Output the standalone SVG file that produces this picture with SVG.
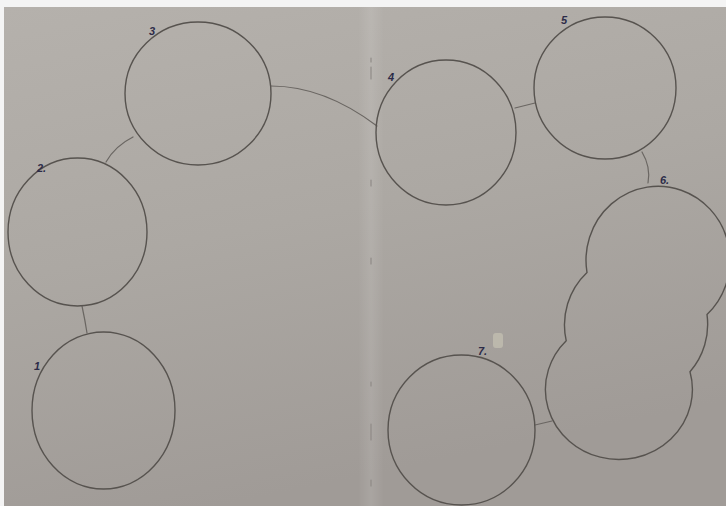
<svg xmlns="http://www.w3.org/2000/svg" width="726" height="506" viewBox="0 0 726 506">
  <defs>
    <linearGradient id="paper" x1="0" y1="0" x2="0.3" y2="1">
      <stop offset="0" stop-color="#b5b1ac"/>
      <stop offset="0.5" stop-color="#aca8a3"/>
      <stop offset="1" stop-color="#a09b97"/>
    </linearGradient>
    <linearGradient id="fold" x1="0" y1="0" x2="1" y2="0">
      <stop offset="0" stop-color="#ffffff" stop-opacity="0"/>
      <stop offset="0.5" stop-color="#ffffff" stop-opacity="0.10"/>
      <stop offset="1" stop-color="#ffffff" stop-opacity="0"/>
    </linearGradient>
    <style>
      .node { fill: none; stroke: #57534f; stroke-width: 1.4; }
      .edge { fill: none; stroke: #6a6662; stroke-width: 1.2; stroke-linecap: round; }
      .lbl { font-family: "Liberation Sans", Arial, sans-serif; font-size: 11px; font-weight: bold; fill: #2c2b48; font-style: italic; }
      .mark { stroke: #8c8884; stroke-width: 1.1; stroke-linecap: round; }
    </style>
  </defs>

  <!-- paper -->
  <rect x="0" y="0" width="726" height="506" fill="#f4f4f4"/>
  <rect x="4" y="7" width="722" height="499" fill="url(#paper)"/>
  <rect x="358" y="7" width="26" height="499" fill="url(#fold)"/>
  <g id="fold-marks">
    <line class="mark" x1="371" y1="58" x2="371" y2="62"/>
    <line class="mark" x1="371" y1="67" x2="371" y2="79"/>
    <line class="mark" x1="371" y1="180" x2="371" y2="186"/>
    <line class="mark" x1="371" y1="258" x2="371" y2="264"/>
    <line class="mark" x1="371" y1="382" x2="371" y2="386"/>
    <line class="mark" x1="371" y1="424" x2="371" y2="440"/>
    <line class="mark" x1="371" y1="480" x2="371" y2="486"/>
  </g>
  <rect x="493" y="333" width="10" height="15" rx="3" fill="#dedbc6" opacity="0.4"/>

  <!-- connectors -->
  <g id="connectors">
    <path class="edge" d="M271,86 Q324,86 377,126"/>
    <path class="edge" d="M106,162 Q115,146 133,137"/>
    <path class="edge" d="M82,306 Q85,320 87,333"/>
    <path class="edge" d="M515,108 L535,103"/>
    <path class="edge" d="M642,152 Q651,167 648,183"/>
    <path class="edge" d="M535,425 L552,421"/>
  </g>

  <!-- nodes -->
  <g id="node-1">
    <ellipse class="node" cx="103.5" cy="410.5" rx="71.5" ry="78.5"/>
    <text class="lbl" x="34" y="370">1</text>
  </g>
  <g id="node-2">
    <ellipse class="node" cx="77.5" cy="232" rx="69.5" ry="74"/>
    <text class="lbl" x="37" y="172">2.</text>
  </g>
  <g id="node-3">
    <ellipse class="node" cx="198" cy="93.5" rx="73" ry="71.5"/>
    <text class="lbl" x="149" y="35">3</text>
  </g>
  <g id="node-4">
    <ellipse class="node" cx="446" cy="132.5" rx="70" ry="72.5"/>
    <text class="lbl" x="388" y="81">4</text>
  </g>
  <g id="node-5">
    <ellipse class="node" cx="605" cy="88" rx="71" ry="71"/>
    <text class="lbl" x="561" y="24">5</text>
  </g>
  <g id="node-6">
    <path class="node" d="M587,272.5 A72,74 0 1 1 707,314.5 A71.5,72 0 0 1 690,371.7 A73.5,70 0 1 1 566.2,340.7 A71.5,72 0 0 1 587,272.5 Z"/>
    <text class="lbl" x="660" y="184">6.</text>
  </g>
  <g id="node-7">
    <ellipse class="node" cx="461.5" cy="430" rx="73.5" ry="75"/>
    <text class="lbl" x="478" y="355">7.</text>
  </g>
</svg>
